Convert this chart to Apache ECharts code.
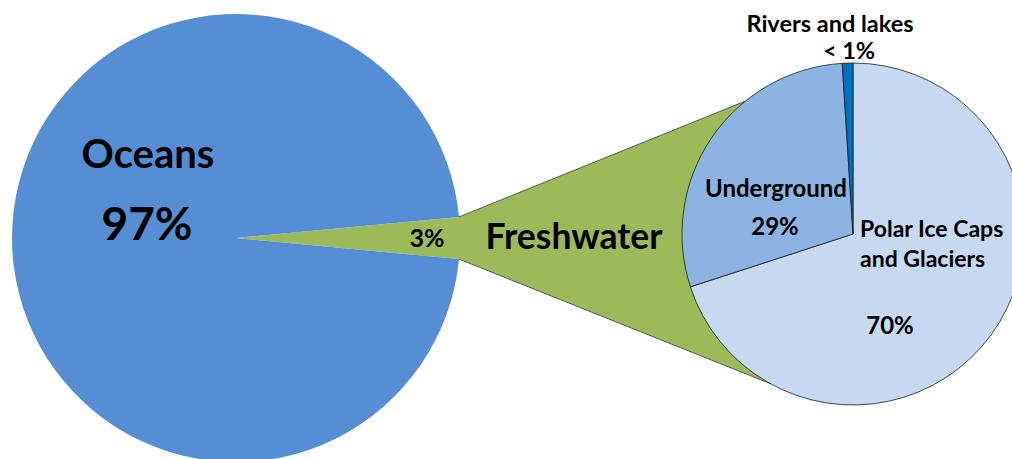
<!DOCTYPE html>
<html>
<head>
<meta charset="utf-8">
<title>Where is the water</title>
<script src="https://cdn.jsdelivr.net/npm/echarts@6/dist/echarts.min.js"></script>
<style>
    html, body { margin: 0; padding: 0; background: #fff; }
    #chart { width: 1012px; height: 459px; }
</style>
</head>
<body>
<div id="chart"></div>
<script>
// all the water on earth
const mainNames = ['Oceans', 'Freshwater'];
const mainValues = [97, 3];
const mainLabels = ['97%', '3%'];

// how the freshwater is split
const freshNames = ['Polar Ice Caps\nand Glaciers', 'Underground', 'Rivers and lakes'];
const freshValues = [70, 29, 1];
const freshLabels = ['70%', '29%', '< 1%'];

const mainColors = ['#558ed5', '#9bbb59'];
const freshColors = ['#c6d9f1', '#8db3e2', '#0070c0'];

// layout
const bigCenter = [236, 238];
const bigR = 224;
const smallCenter = [853, 234];
const smallR = 171;
// where the connector lines meet the small pie (degrees, counter-clockwise from east)
const joinTop = 129;
const joinBottom = -119;

const FONT = 'Lato, "Open Sans", sans-serif';

const total = mainValues.reduce((a, b) => a + b, 0);
const halfAngle = mainValues[1] / total * 180;

function onCircle(c, r, deg) {
    const a = deg * Math.PI / 180;
    return [c[0] + r * Math.cos(a), c[1] - r * Math.sin(a)];
}

const wedgeTop = onCircle(bigCenter, bigR, halfAngle);
const wedgeBottom = onCircle(bigCenter, bigR, -halfAngle);
const pieTop = onCircle(smallCenter, smallR, joinTop);
const pieBottom = onCircle(smallCenter, smallR, joinBottom);

function label(text, x, y, size, align, lh) {
    return {
        type: 'text',
        z: 10,
        silent: true,
        style: {
            text: text,
            x: x,
            y: y,
            fill: '#000',
            fontFamily: FONT,
            fontWeight: 'bold',
            fontSize: size,
            lineHeight: lh || size,
            textAlign: align || 'center',
            textVerticalAlign: 'middle'
        }
    };
}

const option = {
    animation: false,
    backgroundColor: '#fff',
    graphic: [
        // green funnel behind the small pie
        {
            type: 'polygon',
            z: 0,
            silent: true,
            shape: { points: [wedgeTop, pieTop, smallCenter, pieBottom, wedgeBottom] },
            style: { fill: mainColors[1] }
        },
        {
            type: 'polyline',
            z: 0,
            silent: true,
            shape: { points: [wedgeTop, pieTop] },
            style: { stroke: '#595959', lineWidth: 1 }
        },
        {
            type: 'polyline',
            z: 0,
            silent: true,
            shape: { points: [wedgeBottom, pieBottom] },
            style: { stroke: '#595959', lineWidth: 1 }
        },
        label(mainNames[0], 148, 153, 40),
        label(mainLabels[0], 147, 222, 46),
        label(mainLabels[1], 427, 237, 25),
        label(mainNames[1], 574, 235, 35.5),
        label(freshNames[1], 776, 187, 24),
        label(freshLabels[1], 775, 225, 24),
        label(freshNames[0], 860, 243, 23, 'left', 30),
        label(freshLabels[0], 890, 324, 24),
        label(freshNames[2], 830, 23, 23.5),
        label(freshLabels[2], 849, 50, 23.5)
    ],
    series: [
        {
            type: 'pie',
            silent: true,
            center: bigCenter,
            radius: [0, bigR],
            startAngle: halfAngle,
            clockwise: true,
            label: { show: false },
            labelLine: { show: false },
            itemStyle: { borderWidth: 0 },
            data: [mainValues[1], mainValues[0]].map((v, i) => ({
                name: [mainNames[1], mainNames[0]][i],
                value: v,
                itemStyle: { color: [mainColors[1], mainColors[0]][i] }
            }))
        },
        {
            type: 'pie',
            silent: true,
            center: smallCenter,
            radius: [0, smallR],
            startAngle: 90,
            clockwise: true,
            label: { show: false },
            labelLine: { show: false },
            itemStyle: { borderColor: '#1a1a1a', borderWidth: 0.8 },
            data: freshValues.map((v, i) => ({
                name: freshNames[i],
                value: v,
                itemStyle: { color: freshColors[i] }
            }))
        }
    ]
};

const myChart = echarts.init(document.getElementById('chart'), null, { renderer: 'svg' });
myChart.setOption(option);
</script>
</body>
</html>
